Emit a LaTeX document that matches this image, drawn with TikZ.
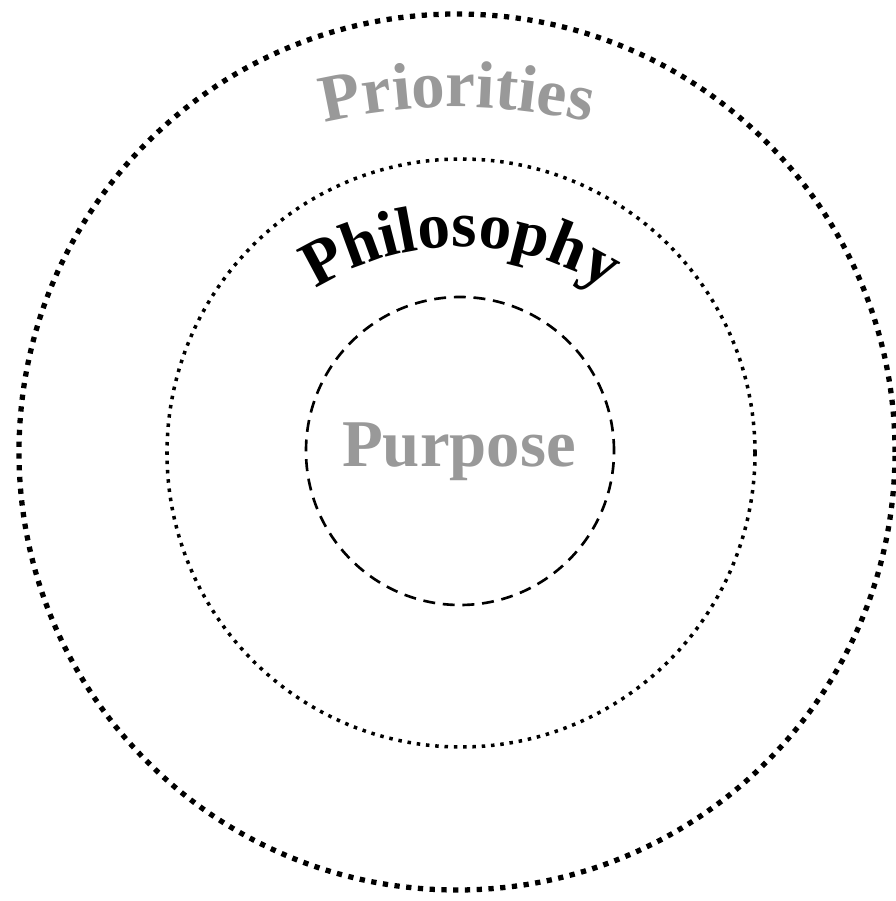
\documentclass[tikz,border=0pt]{standalone}
\usepackage{fontspec}
\setmainfont{Liberation Serif}
\usepackage{tikz}
\usetikzlibrary{decorations.text}
\definecolor{ringgray}{gray}{0.6}

\begin{document}
\begin{tikzpicture}[line join=round,x=1cm,y=1cm,
		outerring/.style={color=black,line width=3pt,dash pattern=on 3pt off 3.7pt},
		midring/.style={color=black,line width=2pt,dash pattern=on 2pt off 3.3pt},
		innerring/.style={color=black,line width=1.5pt,dash pattern=on 6.8pt off 4.4pt},
		ringword/.style={font=\fontsize{38}{38}\selectfont\bfseries}]
		\useasboundingbox (-9.16,-8.98) rectangle (8.74,9.04);
		\draw[outerring] (-0.02,0) circle (8.76);
		\draw[midring] (0.06,-0.02) circle (5.88);
		\draw[innerring] (0.04,0.02) circle (3.08);
		% curved labels
		\path[decorate,decoration={text along path,text align=center,text color=ringgray,
			text={|\fontsize{38}{38}\selectfont\bfseries|Priorities}}]
			(-0.02,-4.5) ++(120:11.4) arc[start angle=120,end angle=60,radius=11.4];
		\path[decorate,decoration={text along path,text align=center,text color=black,
			text={|\fontsize{37}{37}\selectfont\bfseries|Philosophy}}]
			(0.06,-1.34) ++(140:5.44) arc[start angle=140,end angle=40,radius=5.44];
		\node[ringword,text=ringgray,anchor=base] (purpose) at (0.02,-0.3) {Purpose};
	\end{tikzpicture}
\end{document}
